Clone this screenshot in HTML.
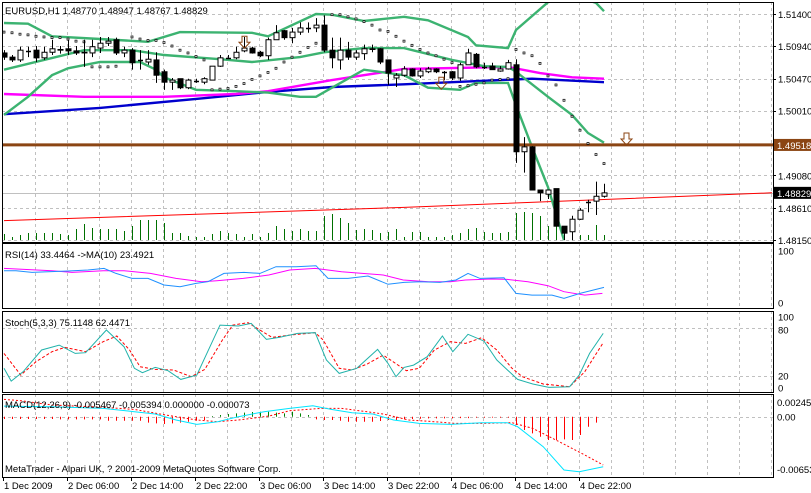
<!DOCTYPE html>
<html><head><meta charset="utf-8">
<style>
html,body{margin:0;padding:0;background:#fff;}
svg{display:block;font-family:"Liberation Sans",sans-serif;font-size:9.5px;}
</style></head>
<body>
<svg id="chart" width="811" height="493" viewBox="0 0 811 493" xmlns="http://www.w3.org/2000/svg">
<defs>
<clipPath id="cMain"><rect x="2" y="2" width="771" height="240"/></clipPath>
<clipPath id="cRsi"><rect x="2" y="243" width="771" height="65"/></clipPath>
<clipPath id="cSto"><rect x="2" y="311" width="771" height="81"/></clipPath>
<clipPath id="cMacd"><rect x="2" y="394" width="771" height="83"/></clipPath>
</defs>
<rect width="811" height="493" fill="#fff"/>
<g id="grid"></g>
<g id="main" clip-path="url(#cMain)"></g>
<g id="rsi" clip-path="url(#cRsi)"></g>
<g id="sto" clip-path="url(#cSto)"></g>
<g id="macd" clip-path="url(#cMacd)"></g>
<g id="frames"></g>
<g id="axes"></g>
<text x="5" y="14" fill="#000">EURUSD,H1  1.48770 1.48947 1.48767 1.48829</text>
<text x="5" y="258" fill="#000">RSI(14) 33.4464  -&gt;MA(10) 23.4921</text>
<text x="5" y="326" fill="#000">Stoch(5,3,3) 75.1148 62.4471</text>
<text x="5" y="408" fill="#000">MACD(12,26,9) -0.005467 -0.005394 0.000000 -0.000073</text>
<text x="5" y="472" fill="#000">MetaTrader - Alpari UK, ? 2001-2009 MetaQuotes Software Corp.</text>
</svg>
<script>
const open=[1.5084,1.5078,1.5074,1.5087,1.5088,1.5077,1.5085,1.5089,1.5090,1.5087,1.5085,1.5084,1.5091,1.5098,1.5103,1.5084,1.5088,1.5074,1.5071,1.5074,1.5057,1.5042,1.5047,1.5034,1.5044,1.5042,1.5045,1.5065,1.5077,1.5077,1.5087,1.5091,1.5085,1.5080,1.5103,1.5116,1.5106,1.5114,1.5120,1.5120,1.5124,1.5088,1.5074,1.5088,1.5078,1.5083,1.5090,1.5090,1.5074,1.5048,1.5052,1.5061,1.5051,1.5057,1.5061,1.5057,1.5057,1.5048,1.5067,1.5082,1.5064,1.5065,1.5058,1.5061,1.5067,1.4942,1.4949,1.4887,1.4881,1.4889,1.4835,1.4827,1.4845,1.4870,1.4871,1.4878];
const high=[1.5088,1.5081,1.5093,1.5093,1.5094,1.5093,1.5103,1.5094,1.5103,1.5094,1.5103,1.5103,1.5107,1.5107,1.5106,1.5093,1.5091,1.5088,1.5088,1.5085,1.5060,1.5048,1.5047,1.5047,1.5047,1.5049,1.5065,1.5081,1.5081,1.5093,1.5107,1.5093,1.5087,1.5106,1.5124,1.5117,1.5120,1.5128,1.5128,1.5134,1.5138,1.5106,1.5106,1.5100,1.5088,1.5096,1.5096,1.5091,1.5074,1.5055,1.5065,1.5062,1.5062,1.5064,1.5062,1.5058,1.5058,1.5070,1.5090,1.5084,1.5070,1.5070,1.5065,1.5074,1.5075,1.4963,1.4950,1.4887,1.4887,1.4889,1.4835,1.4850,1.4861,1.4873,1.4899,1.4896];
const low=[1.5074,1.5071,1.5071,1.5078,1.5071,1.5074,1.5081,1.5083,1.5081,1.5081,1.5064,1.5078,1.5084,1.5094,1.5081,1.5078,1.5060,1.5060,1.5067,1.5041,1.5031,1.5031,1.5032,1.5032,1.5041,1.5039,1.5045,1.5064,1.5077,1.5075,1.5085,1.5083,1.5078,1.5074,1.5103,1.5103,1.5098,1.5110,1.5113,1.5114,1.5085,1.5062,1.5060,1.5074,1.5074,1.5074,1.5085,1.5068,1.5038,1.5035,1.5050,1.5050,1.5048,1.5055,1.5055,1.5045,1.5045,1.5044,1.5067,1.5062,1.5061,1.5060,1.5057,1.5060,1.4926,1.4912,1.4887,1.4871,1.4874,1.4835,1.4815,1.4815,1.4844,1.4855,1.4851,1.4876];
const close=[1.5078,1.5074,1.5088,1.5087,1.5077,1.5085,1.5090,1.5088,1.5087,1.5084,1.5084,1.5093,1.5098,1.5101,1.5084,1.5088,1.5070,1.5074,1.5075,1.5052,1.5042,1.5045,1.5034,1.5045,1.5044,1.5047,1.5065,1.5077,1.5077,1.5085,1.5091,1.5084,1.5080,1.5103,1.5113,1.5106,1.5114,1.5120,1.5120,1.5124,1.5088,1.5077,1.5088,1.5078,1.5084,1.5090,1.5089,1.5071,1.5055,1.5052,1.5061,1.5051,1.5058,1.5061,1.5057,1.5057,1.5048,1.5067,1.5084,1.5064,1.5064,1.5060,1.5061,1.5070,1.4942,1.4949,1.4887,1.4883,1.4887,1.4835,1.4825,1.4845,1.4858,1.4870,1.4878,1.48829];
const volume=[6,3,5,7,7,7,7,6,5,11,16,12,11,11,11,9,14,20,20,20,17,7,7,4,3,3,6,9,7,6,3,6,3,7,14,11,9,11,9,9,24,26,22,17,10,11,10,7,8,11,3,8,8,3,3,3,5,7,11,12,8,7,7,8,27,28,27,24,14,14,10,5,5,5,15,5];
const upperIdx=[0,3,6,12,18,22,31,33,39,41,45,50,53,58,59,63,64,68,71,74,75];
const upperVal=[1.5127,1.5126,1.5108,1.5104,1.5100,1.5114,1.5113,1.5108,1.5140,1.5139,1.5130,1.5136,1.5131,1.5107,1.5095,1.5091,1.5117,1.5157,1.5167,1.5156,1.5144];
const midIdx=[0,10,16,20,27,31,37,40,45,50,56,60,63,64,68,71,73,75];
const midVal=[1.5060,1.5088,1.5088,1.5081,1.5075,1.5071,1.5078,1.5085,1.5091,1.5091,1.5074,1.5065,1.5064,1.5057,1.5021,1.4995,1.4969,1.4955];
const lowerIdx=[0,3,6,8,12,17,19,20,24,29,33,37,39,41,45,50,53,57,59,63,64,66,68,70];
const lowerVal=[1.4995,1.5021,1.5052,1.5062,1.5071,1.5071,1.5060,1.5049,1.5031,1.5029,1.5027,1.5021,1.5021,1.5034,1.5060,1.5052,1.5034,1.5031,1.5041,1.5041,1.5009,1.4949,1.4891,1.4815];
const maPinkIdx=[0,10,20,29,33,41,50,63,67,71,75];
const maPinkVal=[1.5025,1.5021,1.5021,1.5025,1.5029,1.5045,1.5061,1.5064,1.5055,1.5049,1.5047];
const maBlueIdx=[0,12,25,33,41,50,62,66,75];
const maBlueVal=[1.4996,1.5005,1.5019,1.5028,1.5035,1.5039,1.5045,1.5047,1.5042];
const redIdx=[0,50,96];
const redVal=[1.4843,1.4862,1.4883];
const sarIdx=[0,1,2,3,4,5,6,7,8,9,10,11,12,13,14,16,17,18,19,20,21,22,23,24,25,26,27,28,29,30,31,32,33,34,35,36,37,38,39,40,41,42,43,44,45,46,47,48,49,50,51,52,53,54,55,56,57,58,59,60,61,62,63,64,65,66,67,68,69,70,71,72,73,74,75];
const sarVal=[1.5114,1.5113,1.5111,1.5110,1.5108,1.5107,1.5106,1.5106,1.5104,1.5101,1.5100,1.5064,1.5064,1.5064,1.5065,1.5107,1.5104,1.5102,1.5102,1.5099,1.5094,1.5088,1.5084,1.5079,1.5074,1.5031,1.5032,1.5033,1.5036,1.5040,1.5046,1.5051,1.5056,1.5062,1.5071,1.5078,1.5085,1.5092,1.5098,1.5105,1.5139,1.5139,1.5136,1.5133,1.5129,1.5124,1.5117,1.5115,1.5108,1.5101,1.5095,1.5089,1.5084,1.5080,1.5075,1.5070,1.5036,1.5037,1.5039,1.5041,1.5045,1.5046,1.5047,1.5089,1.5084,1.5080,1.5069,1.5051,1.5038,1.5016,1.4993,1.4973,1.4954,1.4938,1.4925];
const levelPrice=[1.49518];
const arrowIdx=[30,54.6,77.75];
const arrowTop=[1.5108,1.5049,1.4969];
const priceTicks=[1.51400,1.50940,1.50470,1.50010,1.49080,1.48610,1.48150];
const rsiIdx=[0,1.5,3.5,5.5,8,10.5,12.5,14,16,18,20,22,24,25.5,27.5,30,32,34,36.5,39,40.5,43,45.5,48,50,52,54.5,56.5,58,59.5,62.5,64,66,68.5,70,72,75];
const rsiVal=[61.5,61.5,58.3,59.6,60.9,62.8,66.0,56.4,46.8,46.8,34.0,30.8,37.2,40.4,56.4,58.3,56.4,69.2,69.2,71.2,46.8,46.8,51.3,35.3,39.1,40.4,39.1,43.6,56.4,46.8,48.1,17.9,14.7,14.7,8.3,17.9,29.5];
const rsiMaIdx=[0,6,8.5,12.4,15,18.3,21.5,24.7,26.6,29.9,33.1,35.7,38.9,42.2,44.8,47.4,49.9,53.1,55.8,57.7,60.9,62.9,65.5,68,70,72.6,74.8];
const rsiMaVal=[66.0,61.5,58.3,61.5,61.5,56.4,46.8,40.4,42.3,46.8,53.2,62.8,66.0,59.6,56.4,53.2,43.6,40.4,40.4,43.6,45.5,44.9,40.4,32.7,21.2,14.7,17.9];
const stoIdx=[0,0.9,2.4,4.7,6.9,8.9,10.2,12.8,15,16.3,17.3,18.9,20.5,22.1,24.1,27,29.3,30.9,32.8,34.4,36.7,38.9,40.3,41.9,44.1,46.7,48,49,50,51.2,52.9,54.8,56.1,58,60,61.6,64.2,66.1,68.1,70.7,71.9,73.2,74.9];
const stoVal=[29.2,13.3,25,52.1,58.3,47.9,48.8,77.1,56.3,29.2,23.8,30.4,26.3,15.4,20.8,83.3,82.1,85.4,65.4,67.9,72.9,73.8,39.6,22.9,29.2,52.9,35.4,18.8,30.4,33.3,43.8,69.6,50,71.7,63.3,39.6,15.4,9.6,5.4,6.3,20.8,47.9,72.9];
const sigIdx=[0,2.1,4,6,7.6,10.2,12.4,14.1,15.7,17,18.9,21.2,23.4,25.1,27.3,28.6,30.5,33.5,35.7,38.9,39.9,41.9,43.5,45.4,47.4,50.3,51.9,53.8,55.8,57.7,59.7,61.6,63.5,64.8,67.4,70.7,72.6,74.9];
const sigVal=[47.9,20.8,37.5,50,55.4,50,62.5,69.6,52.1,31.3,27.9,27.1,18.8,27.9,64.6,83.3,86.3,67.9,70.8,73.8,64.6,29.2,27.1,34.6,45.8,26.3,29.2,52.1,62.5,60.4,67.5,52.1,29.2,18.8,9.6,6.3,25,61.3];
const macdHist=[-0.00029,-0.00029,-0.00029,-0.00029,-0.00029,-0.00029,-0.00029,-0.00033,-0.00033,-0.00033,-0.00033,-0.00033,-0.00033,-0.0005,-0.0005,-0.0005,-0.0005,-0.0005,-0.00074,-0.00083,-0.00091,-0.00083,-0.00074,-0.00062,-0.0005,-0.00041,0.00008,0.00021,0.00033,0.00041,0.0005,0.00058,0.00062,0.00062,0.0005,0.00041,0.00062,0.00041,0.00021,-0.00033,-0.00041,-0.00041,-0.0005,-0.00062,-0.00062,-0.00062,-0.00062,-0.00054,-0.00041,-0.00041,-0.00033,-0.00029,-0.00025,-0.00021,-0.00021,-0.00021,-0.00021,-0.00017,-0.00017,-0.00012,-0.00012,-0.00012,-0.00012,-0.00012,-0.00103,-0.00165,-0.00207,-0.00248,-0.00289,-0.00289,-0.00281,-0.00289,-0.00227,-0.00124,-0.00074,0];
const cyanIdx=[0,6,12.4,16.3,18.9,21.5,24.1,26.7,29.3,32.5,35.7,38.6,40.9,43.5,46.1,48.7,51.9,55.8,59.7,62.9,64.2,67.4,70,71.9,74.9];
const cyanVal=[0.00132,0.00124,0.00103,0.00062,0.00033,-0.00041,-0.00095,-0.00062,0,0.00062,0.00103,0.00136,0.00091,0.0005,0.00033,-0.00041,-0.00083,-0.00095,-0.00074,-0.00074,-0.00124,-0.00372,-0.00661,-0.00682,-0.0062];
const macdSigIdx=[0,2.1,6,12.4,16.3,20.2,24.1,26.7,29.3,33.1,35.7,39.6,42.2,44.8,47.4,50.6,53.8,56.4,59.7,63.5,66.1,69.4,72.6,74.9];
const macdSigVal=[0.00215,0.00198,0.00145,0.00116,0.00091,0.00021,-0.00041,-0.00062,-0.00041,0.00008,0.00074,0.00103,0.00103,0.0007,0.00033,-0.00041,-0.00062,-0.00083,-0.00083,-0.00074,-0.00145,-0.0031,-0.00475,-0.00599];
const timeLabels=["1 Dec 2009","2 Dec 06:00","2 Dec 14:00","2 Dec 22:00","3 Dec 06:00","3 Dec 14:00","3 Dec 22:00","4 Dec 06:00","4 Dec 14:00","4 Dec 22:00"];
const timeLabelIdx=[0,8,16,24,32,40,48,56,64,72];

const NS="http://www.w3.org/2000/svg";
const xI=i=>4+8*i;
const yP=p=>14+(1.514-p)*6957;
const yV=v=>240-v;
const yR=v=>302.7-v*0.52;
const yS=v=>391.7-v*0.8;
const yM=v=>416.7-v*8065;
function mk(parent,tag,attrs){const e=document.createElementNS(NS,tag);for(const k in attrs)e.setAttribute(k,attrs[k]);parent.appendChild(e);return e;}
function pts(idx,val,fy){return idx.map((i,k)=>xI(i).toFixed(1)+","+fy(val[k]).toFixed(1)).join(" ");}
const G=id=>document.getElementById(id);

const grid=G('grid');
for(let x=35;x<773;x+=32){
  [[2,242],[243,308],[311,392],[394,477]].forEach(([a,b])=>{
    const l=mk(grid,'line',{x1:x+.5,y1:a,x2:x+.5,y2:b,stroke:'#c0c0c0','stroke-dasharray':'3,3'});
    
    
  });
}
priceTicks.forEach(p=>{
  const y=Math.round(yP(p))+.5;
  const l=mk(grid,'line',{x1:2,y1:y,x2:773,y2:y,stroke:'#c0c0c0','stroke-dasharray':'3,3'});
  
  
});
[80,20].forEach(v=>{
  const y=Math.round(yS(v))+.5;
  const l=mk(grid,'line',{x1:2,y1:y,x2:773,y2:y,stroke:'#c0c0c0','stroke-dasharray':'3,3'});
  
  
});
{const y=Math.round(yM(0))+.5;
 const l=mk(grid,'line',{x1:2,y1:y,x2:773,y2:y,stroke:'#c0c0c0','stroke-dasharray':'3,3'});
 
 }

const main=G('main');
volume.forEach((v,i)=>{
  const l=mk(main,'line',{x1:xI(i)+.5,y1:240,x2:xI(i)+.5,y2:yV(v),stroke:'#007000'});
  
  
});
{const l=mk(main,'line',{x1:2,y1:Math.round(yP(close[close.length-1]))+.5,x2:773,y2:Math.round(yP(close[close.length-1]))+.5,stroke:'#c0c0c0'});
 
 }
{const l=mk(main,'polyline',{points:pts(redIdx,redVal,yP),fill:'none',stroke:'#ff0000','stroke-width':1});
 
 }
[[maBlueIdx,maBlueVal,'#0000cd','blue-ma'],[maPinkIdx,maPinkVal,'#ff00ff','magenta-ma'],[upperIdx,upperVal,'#3cb371','bollinger-upper'],[midIdx,midVal,'#3cb371','bollinger-middle'],[lowerIdx,lowerVal,'#3cb371','bollinger-lower']].forEach(([a,b,c,n])=>{
  const l=mk(main,'polyline',{points:pts(a,b,yP),fill:'none',stroke:c,'stroke-width':2.4});
  
  
});
levelPrice.forEach(p=>{
  const l=mk(main,'line',{x1:2,y1:yP(p),x2:773,y2:yP(p),stroke:'#8b4513','stroke-width':3});
  
  
});
sarIdx.forEach((i,k)=>{
  const c=mk(main,'rect',{x:xI(i)-1,y:yP(sarVal[k])-1,width:2,height:2,fill:'#fff',stroke:'#000','stroke-width':0.7});
  
  
});
open.forEach((o,i)=>{
  const x=xI(i),c=close[i];
  const g=mk(main,'g',{});
  
  
  mk(g,'line',{x1:x+.5,y1:yP(high[i]),x2:x+.5,y2:yP(low[i]),stroke:'#000'});
  const yt=yP(Math.max(o,c)),yb=yP(Math.min(o,c));
  if(Math.abs(o-c)<0.00008){mk(g,'line',{x1:x-2,y1:Math.round(yt)+.5,x2:x+3,y2:Math.round(yt)+.5,stroke:'#000','stroke-width':1.5});}
  else mk(g,'rect',{x:x-2,y:yt,width:5,height:yb-yt,fill:c>o?'#fff':'#000',stroke:'#000'});
});
arrowIdx.forEach((i,k)=>{
  const x=xI(i),y=yP(arrowTop[k]);
  const a=mk(main,'polygon',{points:`${x-2},${y} ${x+3},${y} ${x+3},${y+6} ${x+6},${y+6} ${x+.5},${y+12} ${x-5},${y+6} ${x-2},${y+6}`,fill:'none',stroke:'#8b4513'});
  
  
});

const rsi=G('rsi');
{const l=mk(rsi,'polyline',{points:pts(rsiMaIdx,rsiMaVal,yR),fill:'none',stroke:'#ff00ff'});
 }
{const l=mk(rsi,'polyline',{points:pts(rsiIdx,rsiVal,yR),fill:'none',stroke:'#1e90ff'});
 }
const sto=G('sto');
{const l=mk(sto,'polyline',{points:pts(sigIdx,sigVal,yS),fill:'none',stroke:'#ff0000','stroke-dasharray':'3,2'});
 }
{const l=mk(sto,'polyline',{points:pts(stoIdx,stoVal,yS),fill:'none',stroke:'#20b2aa'});
 }
const macd=G('macd');
macdHist.forEach((v,i)=>{
  if(v===0)return;
  const l=mk(macd,'line',{x1:xI(i)+.5,y1:yM(0),x2:xI(i)+.5,y2:yM(v),stroke:v>0?'#008000':'#ff0000'});
  
  
});
{const l=mk(macd,'polyline',{points:pts(macdSigIdx,macdSigVal,yM),fill:'none',stroke:'#ff0000','stroke-dasharray':'2,2'});
 }
{const l=mk(macd,'polyline',{points:pts(cyanIdx,cyanVal,yM),fill:'none',stroke:'#00e5ff'});
 }

const fr=G('frames');
[[2,2,771,240,'main-panel'],[2,243,771,65,'rsi-panel'],[2,311,771,81,'stoch-panel'],[2,394,771,83,'macd-panel']].forEach(([x,y,w,h,n])=>{
  const r=mk(fr,'rect',{x:x+.5,y:y+.5,width:w,height:h,fill:'none',stroke:'#000'});
  
});

const ax=G('axes');
function label(x,y,t,name,fill){const e=mk(ax,'text',{x:x,y:y,fill:fill||'#000'});e.textContent=t;return e;}
priceTicks.forEach(p=>{
  const y=yP(p);
  mk(ax,'line',{x1:773,y1:Math.round(y)+.5,x2:776,y2:Math.round(y)+.5,stroke:'#000'});
  label(778,y+4,p.toFixed(5),'price-tick-label');
});
levelPrice.forEach(p=>{
  const y=yP(p);
  const r=mk(ax,'rect',{x:774,y:y-6,width:37,height:12,fill:'#8b4513'});
  
  label(777,y+4,p.toFixed(5),'level-price-label','#fff');
});
{const p=close[close.length-1],y=yP(p);
 const r=mk(ax,'rect',{x:774,y:y-6,width:37,height:12,fill:'#000'});
 
 label(777,y+4,p.toFixed(5),'current-price-label','#fff');}
[[100,yR(100)],[0,yR(0)]].forEach(([v,y])=>label(778,y+4,String(v),'rsi-tick-label'));
[[100,yS(100)+5],[80,yS(80)+2],[20,yS(20)],[0,yS(0)-4]].forEach(([v,y])=>label(778,y+4,String(v),'stoch-tick-label'));
[["0.00245",402],["0.00",yM(0)],["-0.00653",469]].forEach(([t,y])=>label(777,y+4,t,'macd-tick-label'));
timeLabels.forEach((t,k)=>{
  const x=xI(timeLabelIdx[k])-1;
  mk(ax,'line',{x1:x+.5,y1:477,x2:x+.5,y2:481,stroke:'#000'});
  label(x+1,489,t,'time-axis-label');
});
</script>
</body></html>
